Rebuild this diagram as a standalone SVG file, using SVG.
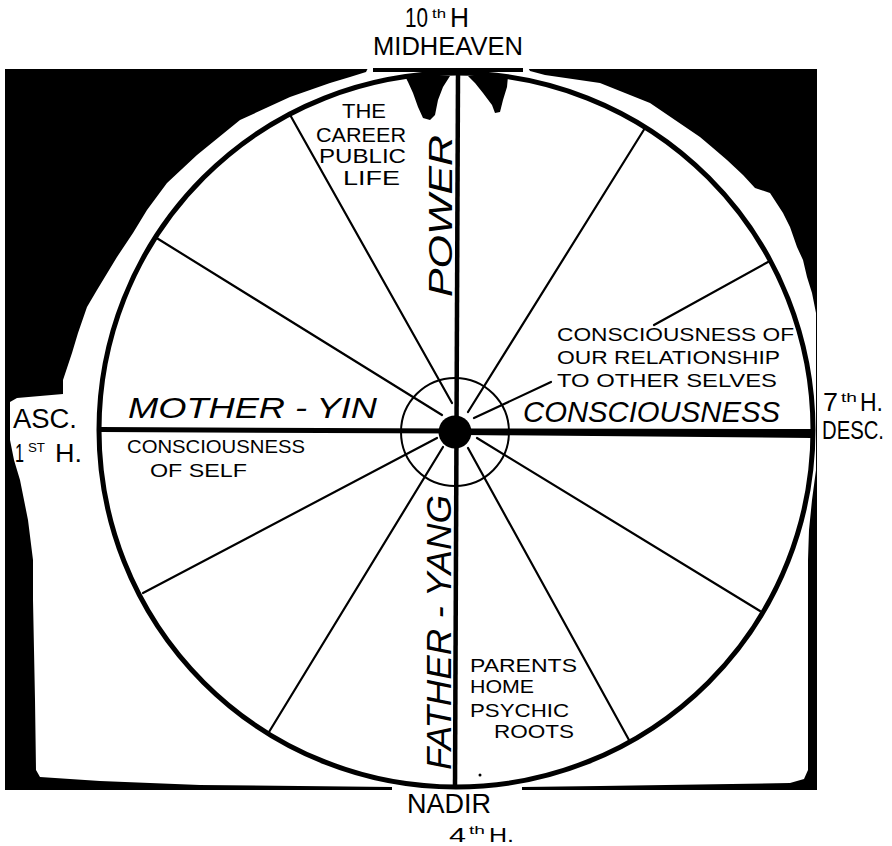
<svg xmlns="http://www.w3.org/2000/svg" width="892" height="846" viewBox="0 0 892 846">
<style>
text{font-family:"Liberation Sans",Arial,sans-serif;fill:#000;}
.it{font-style:italic;}
.spoke{stroke:#000;stroke-width:2.2;fill:none;stroke-linecap:round;}
.axis{stroke:#000;fill:none;}
</style>
<rect width="892" height="846" fill="#fff"/>
<g id="background">
<rect x="5" y="69" width="812" height="721" fill="#000"/>
<path fill="#fff" d="M370,64 L526,64 L530,71 L545,75 L600,83 L650,103 L700,137 L713,148 L727,160 L743,175 L755,188 L770,193 L783,213 L790,227 L797,247 L803,260 L807,277 L812,293 L816,313 L816,470 L812,500 L809,530 L808,560 L808,770 L804,779 L790,783 L600,786 L522,787 L522,792 L392,792 L392,787 L200,785 L100,781 L40,777 L36,770 L35,700 L33,600 L33,560 L28,520 L20,480 L14,460 L10,440 L10,402 L17,398 L63,394 L63,380 L72,353 L78,333 L87,307 L97,290 L117,257 L133,233 L147,210 L167,183 L197,155 L240,120 L290,97 L330,83 L350,77 L366,72 Z"/>
<rect x="373" y="68" width="150" height="4" fill="#000"/>
<path fill="#000" d="M405,76 L450,76 L443,87 L438,100 L435,115 L430,120 L423,118 L418,107 L413,93 L408,82 Z"/>
<path fill="#000" d="M468,76 L508,76 L507,87 L503,100 L500,112 L495,113 L492,105 L483,93 L475,83 Z"/>
<circle cx="480" cy="775" r="1.5" fill="#000"/>
</g>
<g id="wheel">
<circle cx="456" cy="430" r="357" class="axis" stroke-width="5"/>
<circle cx="455" cy="432" r="54" class="axis" stroke-width="2"/>
</g>
<g id="connectors">
<line class="axis" x1="458" y1="72" x2="455" y2="788" stroke-width="4.5"/>
<line class="axis" x1="100" y1="429.5" x2="455" y2="431" stroke-width="5"/>
<polygon points="466,428.5 812,429 812,438 466,435" fill="#000"/>
<line class="spoke" x1="289" y1="113" x2="452" y2="403"/>
<line class="spoke" x1="155" y1="237" x2="442" y2="415"/>
<line class="spoke" x1="645" y1="128" x2="468" y2="412"/>
<line class="spoke" x1="768" y1="262" x2="654" y2="325"/>
<line class="spoke" x1="551" y1="382" x2="474" y2="418"/>
<line class="spoke" x1="760" y1="611" x2="477" y2="438"/>
<line class="spoke" x1="629" y1="740" x2="468" y2="448"/>
<line class="spoke" x1="269" y1="732" x2="443" y2="447"/>
<line class="spoke" x1="143" y1="593" x2="437" y2="438"/>
</g>
<g id="center">
<circle cx="455" cy="432" r="16.5" fill="#000"/>
</g>
<g id="midheaven">
<text x="405" y="27" font-size="27" textLength="23" lengthAdjust="spacingAndGlyphs">10</text>
<text x="432" y="18" font-size="12" textLength="14" lengthAdjust="spacingAndGlyphs">th</text>
<text x="450" y="27" font-size="27" textLength="19" lengthAdjust="spacingAndGlyphs">H</text>
<text x="373" y="55" font-size="25" textLength="150" lengthAdjust="spacingAndGlyphs">MIDHEAVEN</text>
</g>
<g id="ascendant">
<text x="13" y="428" font-size="27" textLength="64" lengthAdjust="spacingAndGlyphs">ASC.</text>
<text x="15" y="462" font-size="26" textLength="9" lengthAdjust="spacingAndGlyphs">1</text>
<text x="28" y="452" font-size="12" textLength="17" lengthAdjust="spacingAndGlyphs">ST</text>
<text x="55" y="462" font-size="26" textLength="27" lengthAdjust="spacingAndGlyphs">H.</text>
</g>
<g id="descendant">
<text x="823" y="411" font-size="25" textLength="15" lengthAdjust="spacingAndGlyphs">7</text>
<text x="841" y="402" font-size="12" textLength="16" lengthAdjust="spacingAndGlyphs">th</text>
<text x="860" y="411" font-size="25" textLength="23" lengthAdjust="spacingAndGlyphs">H.</text>
<text x="822" y="439" font-size="26" textLength="62" lengthAdjust="spacingAndGlyphs">DESC.</text>
</g>
<g id="nadir">
<text x="407" y="813" font-size="27" textLength="84" lengthAdjust="spacingAndGlyphs">NADIR</text>
<text x="449" y="842" font-size="21" textLength="17" lengthAdjust="spacingAndGlyphs">4</text>
<text x="469" y="834" font-size="10" textLength="16" lengthAdjust="spacingAndGlyphs">th</text>
<text x="489" y="842" font-size="21" textLength="25" lengthAdjust="spacingAndGlyphs">H.</text>
</g>
<g id="career">
<text x="342" y="118" font-size="21" textLength="44" lengthAdjust="spacingAndGlyphs">THE</text>
<text x="316" y="142" font-size="21" textLength="90" lengthAdjust="spacingAndGlyphs">CAREER</text>
<text x="319" y="163" font-size="21" textLength="87" lengthAdjust="spacingAndGlyphs">PUBLIC</text>
<text x="343" y="185" font-size="21" textLength="57" lengthAdjust="spacingAndGlyphs">LIFE</text>
</g>
<g id="power">
<text class="it" transform="translate(452,297) rotate(-90)" font-size="34" textLength="162" lengthAdjust="spacingAndGlyphs">POWER</text>
</g>
<g id="father-yang">
<text class="it" transform="translate(451,770) rotate(-90)" font-size="35" textLength="275" lengthAdjust="spacingAndGlyphs">FATHER - YANG</text>
</g>
<g id="mother-yin">
<text class="it" x="128" y="418" font-size="29" textLength="249" lengthAdjust="spacingAndGlyphs">MOTHER - YIN</text>
</g>
<g id="self">
<text x="127" y="453" font-size="19" textLength="178" lengthAdjust="spacingAndGlyphs">CONSCIOUSNESS</text>
<text x="150" y="477" font-size="19" textLength="97" lengthAdjust="spacingAndGlyphs">OF SELF</text>
</g>
<g id="relationship">
<text x="557" y="341" font-size="19" textLength="237" lengthAdjust="spacingAndGlyphs">CONSCIOUSNESS OF</text>
<text x="557" y="364" font-size="19" textLength="223" lengthAdjust="spacingAndGlyphs">OUR RELATIONSHIP</text>
<text x="557" y="387" font-size="19" textLength="220" lengthAdjust="spacingAndGlyphs">TO OTHER SELVES</text>
</g>
<g id="consciousness">
<text class="it" x="523" y="422" font-size="30" textLength="257" lengthAdjust="spacingAndGlyphs">CONSCIOUSNESS</text>
</g>
<g id="roots">
<text x="470" y="672" font-size="19" textLength="107" lengthAdjust="spacingAndGlyphs">PARENTS</text>
<text x="470" y="693" font-size="19" textLength="64" lengthAdjust="spacingAndGlyphs">HOME</text>
<text x="470" y="717" font-size="19" textLength="99" lengthAdjust="spacingAndGlyphs">PSYCHIC</text>
<text x="494" y="738" font-size="19" textLength="80" lengthAdjust="spacingAndGlyphs">ROOTS</text>
</g>
</svg>
